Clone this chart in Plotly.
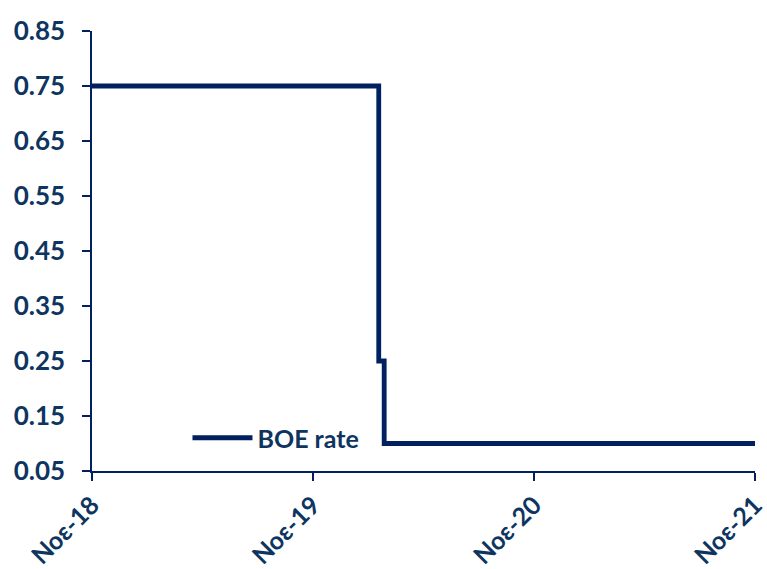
import plotly.graph_objects as go

dates = ["2018-11-01", "2020-02-18", "2020-02-27", "2021-11-01"]
boe_rate = [0.75, 0.25, 0.10, 0.10]
series_name = "BOE rate"
x_ticks = ["2018-11-01", "2019-11-01", "2020-11-01", "2021-11-01"]
x_tick_labels = ["Νοε-18", "Νοε-19", "Νοε-20", "Νοε-21"]
y_ticks = [0.05, 0.15, 0.25, 0.35, 0.45, 0.55, 0.65, 0.75, 0.85]

navy = "#002060"
txt = "#0E3460"
fnt_y = dict(family="Lato", size=26, color=txt, weight="bold")
fnt_x = dict(family="Lato", size=25, color=txt, weight="bold")

fig = go.Figure()
fig.add_trace(go.Scatter(x=dates, y=boe_rate, mode="lines", name=series_name,
                         line=dict(color=navy, width=4.8, shape="hv")))

fig.update_layout(
    width=767, height=569,
    margin=dict(l=92, r=12, t=31, b=98),
    plot_bgcolor="white", paper_bgcolor="white",
    font=fnt_x,
    showlegend=True,
    legend=dict(x=0.144, y=0.075, xanchor="left", yanchor="middle",
                bgcolor="rgba(0,0,0,0)", font=fnt_x, itemwidth=60),
)
fig.update_xaxes(range=["2018-11-01", "2021-11-01"], tickvals=x_ticks, ticktext=x_tick_labels,
                 tickangle=-45, showgrid=False, showline=True, linecolor=navy, linewidth=1.5,
                 ticks="outside", tickcolor=navy, ticklen=8, tickwidth=1.5,
                 tickfont=fnt_x, zeroline=False, automargin=False,
                 ticklabeloverflow="allow")
fig.update_yaxes(range=[0.05, 0.85], tickvals=y_ticks, tickformat=".2f",
                 showgrid=False, showline=True, linecolor=navy, linewidth=1.5,
                 ticks="outside", tickcolor=navy, ticklen=8, tickwidth=1.5,
                 tickfont=fnt_y, zeroline=False, automargin=False,
                 ticklabelstandoff=12, ticklabeloverflow="allow")

fig.write_html("out.html", config={"displayModeBar": False},
               post_script="document.body.style.margin='0';document.body.style.overflow='hidden';")
